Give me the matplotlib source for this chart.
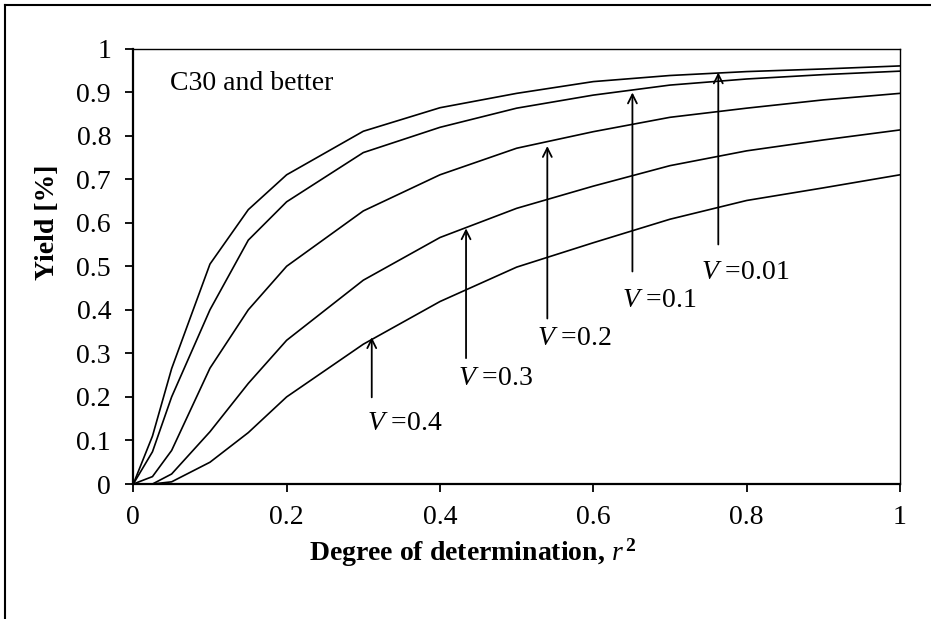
import matplotlib
matplotlib.use("Agg")
import matplotlib.pyplot as plt
from matplotlib.lines import Line2D

plt.rcParams.update({
    'font.family': ['Liberation Serif', 'DejaVu Serif'],
    'font.size': 20,
    'mathtext.fontset': 'custom',
    'mathtext.rm': 'Liberation Serif',
    'mathtext.it': 'Liberation Serif:italic',
    'mathtext.bf': 'Liberation Serif:bold',
})

# degree of determination r^2
r2 = [0, 0.025, 0.05, 0.1, 0.15, 0.2, 0.3, 0.4, 0.5, 0.6, 0.7, 0.8, 0.9, 1.0]
# yield curves for each coefficient of variation V
y_v001 = [0, 0.11, 0.265, 0.505, 0.63, 0.71, 0.81, 0.864, 0.897, 0.924, 0.938, 0.947, 0.953, 0.96]
y_v01 = [0, 0.074, 0.2, 0.40, 0.56, 0.648, 0.761, 0.819, 0.863, 0.893, 0.916, 0.93, 0.94, 0.948]
y_v02 = [0, 0.017, 0.077, 0.266, 0.40, 0.50, 0.627, 0.71, 0.771, 0.809, 0.842, 0.863, 0.882, 0.897]
y_v03 = [0, 0, 0.023, 0.12, 0.231, 0.33, 0.468, 0.566, 0.633, 0.684, 0.731, 0.765, 0.79, 0.813]
y_v04 = [0, 0, 0.005, 0.05, 0.118, 0.2, 0.321, 0.419, 0.498, 0.554, 0.608, 0.651, 0.68, 0.71]

# arrow annotations
v_labels = ["0.4", "0.3", "0.2", "0.1", "0.01"]
arrow_x = [0.311, 0.434, 0.540, 0.651, 0.763]
arrow_tip = [0.337, 0.587, 0.776, 0.899, 0.945]
arrow_tail = [0.199, 0.289, 0.38, 0.488, 0.55]
label_x = [0.305, 0.424, 0.526, 0.637, 0.740]
label_y = [0.14, 0.243, 0.335, 0.422, 0.485]

xticks = [0, 0.2, 0.4, 0.6, 0.8, 1.0]
xtick_labels = ["0", "0.2", "0.4", "0.6", "0.8", "1"]
yticks = [0, 0.1, 0.2, 0.3, 0.4, 0.5, 0.6, 0.7, 0.8, 0.9, 1.0]
ytick_labels = ["0", "0.1", "0.2", "0.3", "0.4", "0.5", "0.6", "0.7", "0.8", "0.9", "1"]

W, H = 931, 619
fig = plt.figure(figsize=(W / 100, H / 100), dpi=100)
ax = fig.add_axes([133.3 / W, 1 - 484 / H, 766.7 / W, 435.5 / H])

for ys in [y_v001, y_v01, y_v02, y_v03, y_v04]:
    ax.plot(r2, ys, color='black', lw=1.2, clip_on=False, solid_joinstyle='miter')

for lab, x, tip, tail, lx, ly in zip(v_labels, arrow_x, arrow_tip, arrow_tail, label_x, label_y):
    ax.annotate("", xy=(x, tip), xytext=(x, tail),
                arrowprops=dict(arrowstyle='->', lw=1.3, color='black',
                                shrinkA=0, shrinkB=0, mutation_scale=16))
    ax.text(lx, ly, r"$\mathit{V}$ =" + lab, ha='left', va='center', fontsize=20)

ax.text(0.048, 0.92, "C30 and better", ha='left', va='center', fontsize=20)

ax.set_xlim(0, 1)
ax.set_ylim(0, 1)
ax.set_xticks(xticks)
ax.set_xticklabels(xtick_labels)
ax.set_yticks(yticks)
ax.set_yticklabels(ytick_labels)
ax.tick_params(direction='out', length=6, width=1.3, labelsize=20, top=False, right=False)
ax.tick_params(axis='y', pad=10)
ax.tick_params(axis='x', pad=9)
for s in ['left', 'bottom']:
    ax.spines[s].set_linewidth(1.6)
for s in ['top', 'right']:
    ax.spines[s].set_linewidth(1.0)

fig.text(473 / W, 1 - 553 / H, r"Degree of determination, $\mathit{r}^{\,\mathbf{2}}$",
         ha='center', va='center', fontsize=20, fontweight='bold')
fig.text(47.5 / W, 1 - 222 / H, "Yield [%]", rotation=90,
         ha='center', va='center', fontsize=20, fontweight='bold')

# outer chart border (top and left edges visible)
fig.add_artist(Line2D([5 / W, 1], [1 - 5 / H, 1 - 5 / H], transform=fig.transFigure,
                      color='black', lw=1.5))
fig.add_artist(Line2D([5 / W, 5 / W], [0, 1 - 5 / H], transform=fig.transFigure,
                      color='black', lw=1.5))

fig.savefig("out.png", dpi=100)
